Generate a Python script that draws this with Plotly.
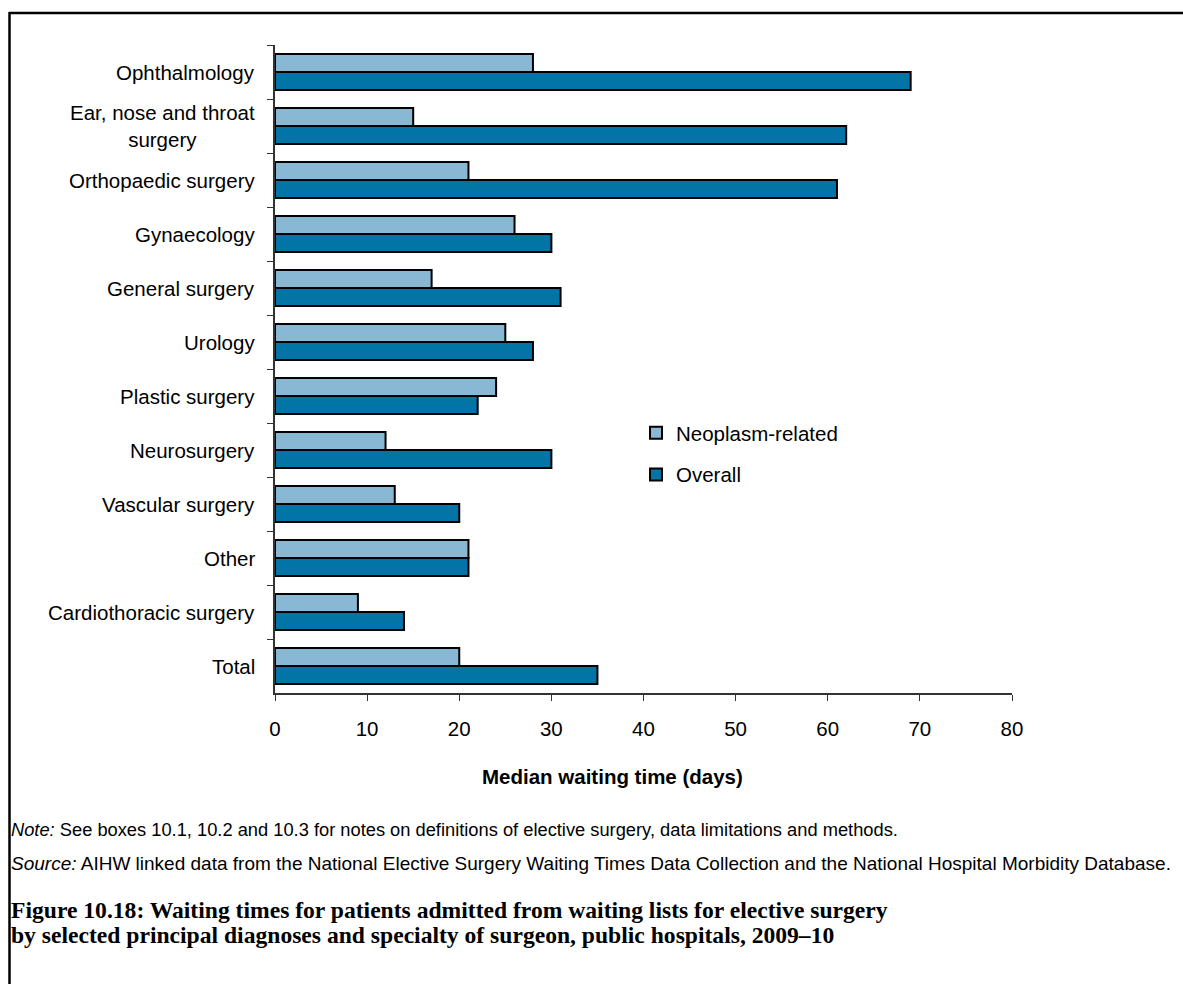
import plotly.graph_objects as go

categories = ["Ophthalmology", "Ear, nose and throat<br>surgery", "Orthopaedic surgery",
              "Gynaecology", "General surgery", "Urology", "Plastic surgery",
              "Neurosurgery", "Vascular surgery", "Other", "Cardiothoracic surgery", "Total"]
neoplasm = [28, 15, 21, 26, 17, 25, 24, 12, 13, 21, 9, 20]
overall = [69, 62, 61, 30, 31, 28, 22, 30, 20, 21, 14, 35]
x_ticks = [0, 10, 20, 30, 40, 50, 60, 70, 80]

W, H = 1183, 984
L, R, T, B = 275, 1012, 45, 693

fig = go.Figure()
fig.add_trace(go.Bar(y=categories, x=neoplasm, orientation="h", name="Neoplasm-related",
                     marker=dict(color="#89B8D5", line=dict(color="#000000", width=2)),
                     legendgroup="a"))
fig.add_trace(go.Bar(y=categories, x=overall, orientation="h", name="Overall",
                     marker=dict(color="#0274A6", line=dict(color="#000000", width=2)),
                     legendgroup="b"))

def px_x(p):
    return (p - L) / (R - L)

def px_y(p):
    return (B - p) / (B - T)

SANS = "Liberation Sans, Arial"
annotations = []
for c in categories:
    annotations.append(dict(x=px_x(257), xref="paper", y=c, yref="y", text=c, showarrow=False,
                            xanchor="right", yanchor="middle", align="center",
                            font=dict(family=SANS, size=20.5, color="#000")))

annotations += [
    dict(x=px_x(612), xref="paper", y=px_y(776), yref="paper", xanchor="center", yanchor="middle",
         showarrow=False, text="<b>Median waiting time (days)</b>",
         font=dict(family=SANS, size=20.5, color="#000")),
    dict(x=px_x(9), xref="paper", y=px_y(829), yref="paper", xanchor="left", yanchor="middle",
         showarrow=False, align="left",
         text="<i>Note:</i> See boxes 10.1, 10.2 and 10.3 for notes on definitions of elective surgery, data limitations and methods.",
         font=dict(family=SANS, size=18.3, color="#000")),
    dict(x=px_x(9), xref="paper", y=px_y(863), yref="paper", xanchor="left", yanchor="middle",
         showarrow=False, align="left",
         text="<i>Source:</i> AIHW linked data from the National Elective Surgery Waiting Times Data Collection and the National Hospital Morbidity Database.",
         font=dict(family=SANS, size=19, color="#000")),
    dict(x=px_x(9), xref="paper", y=px_y(910), yref="paper", xanchor="left", yanchor="middle",
         showarrow=False, align="left",
         text="<b>Figure 10.18: Waiting times for patients admitted from waiting lists for elective surgery</b>",
         font=dict(family="Liberation Serif, serif", size=23.6, color="#000")),
    dict(x=px_x(9), xref="paper", y=px_y(935), yref="paper", xanchor="left", yanchor="middle",
         showarrow=False, align="left",
         text="<b>by selected principal diagnoses and specialty of surgeon, public hospitals, 2009–10</b>",
         font=dict(family="Liberation Serif, serif", size=23.6, color="#000")),
]

shapes = [
    dict(type="line", xref="paper", yref="paper", x0=px_x(9), x1=px_x(1200), y0=px_y(13), y1=px_y(13),
         line=dict(color="#000", width=2.5)),
    dict(type="line", xref="paper", yref="paper", x0=px_x(9.5), x1=px_x(9.5), y0=px_y(12), y1=px_y(1000),
         line=dict(color="#000", width=2.5)),
]

fig.update_layout(
    width=W, height=H, autosize=False,
    margin=dict(l=L, r=W - R, t=T, b=H - B),
    paper_bgcolor="white", plot_bgcolor="white",
    barmode="group", bargap=0.33, bargroupgap=0,
    font=dict(family=SANS, size=20.5, color="#000"),
    xaxis=dict(range=[0, 80], tickvals=x_ticks, ticks="outside", ticklen=6, tickcolor="#333",
               showline=True, linecolor="#333", linewidth=1.5, showgrid=False, zeroline=False,
               tickfont=dict(size=20.5), ticklabelstandoff=11, fixedrange=True),
    yaxis=dict(autorange="reversed", showticklabels=False, ticks="outside", ticklen=6, tickcolor="#333",
               tickson="boundaries", showline=True, linecolor="#333", linewidth=1.5, showgrid=False),
    legend=dict(x=px_x(636), y=px_y(413), xanchor="left", yanchor="top", bgcolor="rgba(0,0,0,0)",
                traceorder="grouped", tracegroupgap=12, itemwidth=30,
                font=dict(family=SANS, size=20.5, color="#000")),
    annotations=annotations, shapes=shapes,
)

fig.write_html("out.html")
